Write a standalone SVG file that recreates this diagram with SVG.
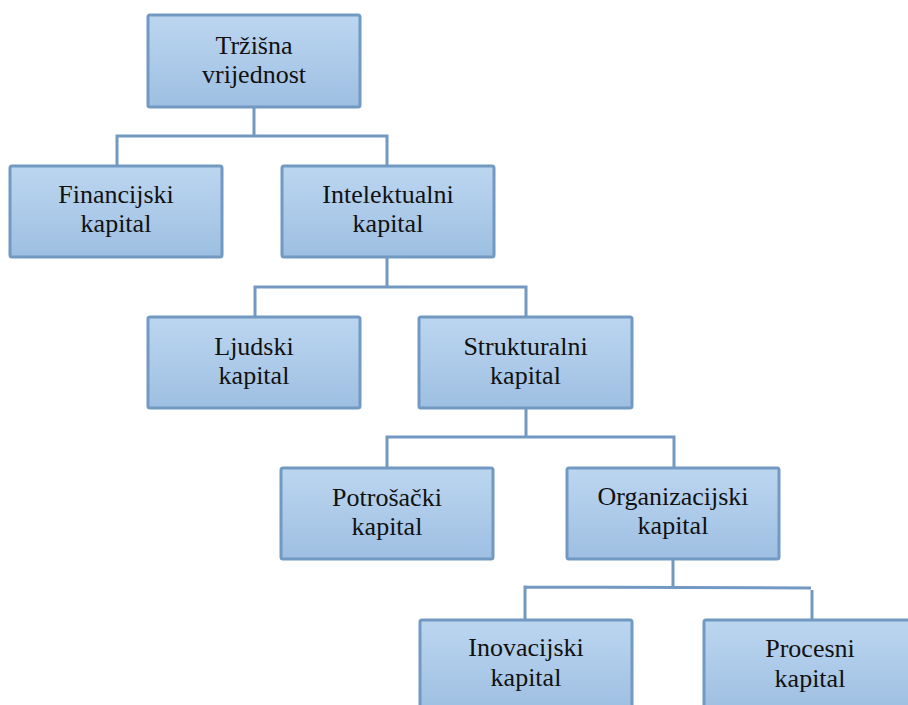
<svg xmlns="http://www.w3.org/2000/svg" width="908" height="705" viewBox="0 0 908 705">
<defs>
<linearGradient id="g" x1="0" y1="0" x2="0" y2="1">
<stop offset="0" stop-color="#bcd6f0"/>
<stop offset="1" stop-color="#9ebfe2"/>
</linearGradient>
<style>
.box{fill:url(#g);stroke:#7199c1;stroke-width:3}
.lbl{font-family:"Liberation Serif","Times New Roman",serif;font-size:26px;fill:#111;text-anchor:middle}
.con{fill:none;stroke:#7399c3;stroke-width:3}
</style>
</defs>
<rect width="908" height="705" fill="#fff"/>
<g id="connectors">
<path class="con" d="M254,107V136M117,136H387M117,134.5V166M387,134.5V166"/>
<path class="con" d="M387,257V287M255,287H526M255,285.5V317M526,285.5V317"/>
<path class="con" d="M526,408V437M387,437H674M387,435.5V468M674,435.5V468"/>
<path class="con" d="M673,559V588M525,587L811,588M525,585.5V620M812,590V620"/>
</g>
<g id="trzisna"><rect class="box" x="148" y="15" width="212" height="92" rx="2"/><text class="lbl" x="254" y="54">Tržišna</text><text class="lbl" x="254" y="83">vrijednost</text></g>
<g id="financijski"><rect class="box" x="10" y="166" width="212" height="91" rx="2"/><text class="lbl" x="116" y="203">Financijski</text><text class="lbl" x="116" y="232">kapital</text></g>
<g id="intelektualni"><rect class="box" x="282" y="166" width="212" height="91" rx="2"/><text class="lbl" x="388" y="203">Intelektualni</text><text class="lbl" x="388" y="232">kapital</text></g>
<g id="ljudski"><rect class="box" x="148" y="317" width="212" height="91" rx="2"/><text class="lbl" x="254" y="355">Ljudski</text><text class="lbl" x="254" y="384">kapital</text></g>
<g id="strukturalni"><rect class="box" x="419" y="317" width="213" height="91" rx="2"/><text class="lbl" x="525.5" y="355">Strukturalni</text><text class="lbl" x="525.5" y="384">kapital</text></g>
<g id="potrosacki"><rect class="box" x="281" y="468" width="212" height="91" rx="2"/><text class="lbl" x="387" y="506">Potrošački</text><text class="lbl" x="387" y="535">kapital</text></g>
<g id="organizacijski"><rect class="box" x="567" y="468" width="212" height="91" rx="2"/><text class="lbl" x="673" y="505">Organizacijski</text><text class="lbl" x="673" y="534">kapital</text></g>
<g id="inovacijski"><rect class="box" x="420" y="620" width="212" height="91" rx="2"/><text class="lbl" x="526" y="656">Inovacijski</text><text class="lbl" x="526" y="686">kapital</text></g>
<g id="procesni"><rect class="box" x="704" y="620" width="212" height="91" rx="2"/><text class="lbl" x="810" y="657">Procesni</text><text class="lbl" x="810" y="687">kapital</text></g>
</svg>
